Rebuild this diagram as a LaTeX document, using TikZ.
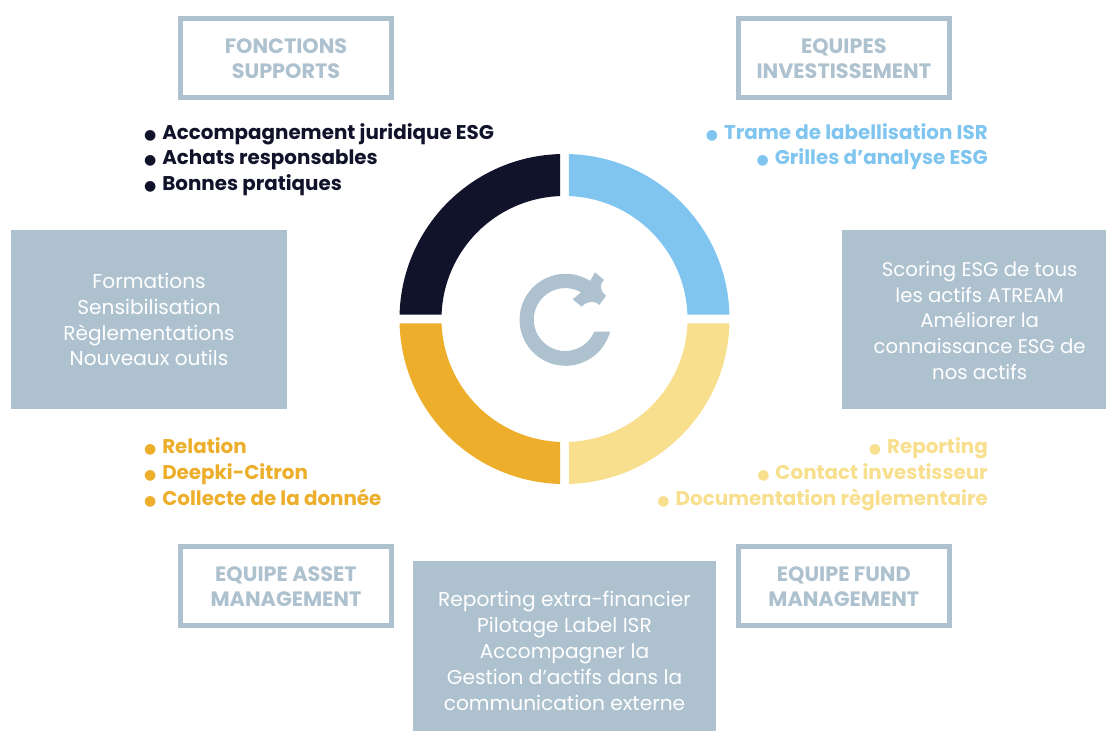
\documentclass[tikz,border=0pt]{standalone}
\usepackage{fontspec}
\setmainfont{Poppins}
\newfontfamily\bulletfont{DejaVu Sans}
\definecolor{steel}{HTML}{ADC1CF}
\definecolor{navy}{HTML}{11132A}
\definecolor{sky}{HTML}{7FC5F0}
\definecolor{sand}{HTML}{F8DF8E}
\definecolor{amber}{HTML}{EDAE2B}
\newcommand{\blt}{\makebox[12.75pt][l]{\smash{\raisebox{0pt}{\hspace*{-0.9pt}\bulletfont\fontsize{10.5}{12}\selectfont ●}}}}
\newcommand{\drp}[1]{\vrule height #1 width 0pt\relax}
\tikzset{
  x=0.75pt,y=-0.75pt,
  outlinebox/.style={draw=steel,line width=3.75pt,fill=white,minimum width=157.8pt,minimum height=59.25pt,inner sep=0pt,align=center,text=steel,font=\fontsize{15.6}{18.75}\selectfont\bfseries},
  solidbox/.style={fill=steel,inner sep=0pt,align=center,text=white,font=\fontsize{15.1}{#1}\selectfont},
  solidbox/.default=19.3,
  listtext/.style={inner sep=0pt,font=\fontsize{14.9}{19.25}\selectfont\bfseries},
}
\begin{document}
\begin{tikzpicture}
\useasboundingbox (0,0) rectangle (1106,731);
% ring
\fill[sky] (568.8,154.06) arc[start angle=88.51,end angle=1.49,radius=123.75pt] -- (687.42,314.7) arc[start angle=2,end angle=88,radius=92.25pt] -- cycle;
\fill[sand] (729.44,323.3) arc[start angle=-1.49,end angle=-88.51,radius=123.75pt] -- (568.8,441.92) arc[start angle=-88,end angle=-2,radius=92.25pt] -- cycle;
\fill[amber] (560.2,483.94) arc[start angle=-91.49,end angle=-178.51,radius=123.75pt] -- (441.58,323.3) arc[start angle=-178,end angle=-92,radius=92.25pt] -- cycle;
\fill[navy] (399.56,314.7) arc[start angle=178.51,end angle=91.49,radius=123.75pt] -- (560.2,196.08) arc[start angle=92,end angle=178,radius=92.25pt] -- cycle;
% refresh icon
\fill[steel] (610,331.7) arc[start angle=-15,end angle=-302.3,radius=34.5pt]
 -- (595,272.3) -- (604,280) .. controls (599,285) and (600,291) .. (606,295.7) -- (599.3,305) .. controls (594,300) and (587,301) .. (581.7,306.7) -- (572.7,299.3) -- (581,292.3)
 arc[start angle=60,end angle=337.6,radius=23.6pt] -- cycle;
% boxes
\node[outlinebox] (fs) at (286,57.7) {\drp{12.4pt}FONCTIONS\\SUPPORTS};
\node[outlinebox] (ei) at (843.8,57.7) {\drp{12.4pt}EQUIPES\\INVESTISSEMENT};
\node[outlinebox] (ea) at (286,586) {\drp{12.4pt}EQUIPE ASSET\\MANAGEMENT};
\node[outlinebox] (ef) at (843.8,586) {\drp{12.4pt}EQUIPE FUND\\MANAGEMENT};
\node[solidbox,minimum width=207pt,minimum height=134pt] (b1) at (149,319.5) {\drp{11.6pt}Formations\\Sensibilisation\\Règlementations\\Nouveaux outils};
\node[solidbox,minimum width=198pt,minimum height=134pt,font=\fontsize{14.8}{19.3}\selectfont] (b2) at (974,319.5) {\drp{12.5pt}\hspace*{8.5pt}Scoring ESG de tous\\\hspace*{8.5pt}les actifs ATREAM\\\hspace*{8.5pt}Améliorer la\\\hspace*{8.5pt}connaissance ESG de\\\hspace*{8.5pt}nos actifs};
\node[solidbox=19.5,minimum width=227pt,minimum height=127.5pt] (b3) at (564.5,646) {\drp{18.5pt}Reporting extra-financier\\Pilotage Label ISR\\Accompagner la\\Gestion d’actifs dans la\\communication externe};
% lists
\node[listtext,text=navy,anchor=north west,align=left] (l1) at (145,123) {\blt Accompagnement juridique ESG\\\blt Achats responsables\\\blt Bonnes pratiques};
\node[listtext,text=sky,anchor=north east,align=right] (l2) at (988,123) {\blt Trame de labellisation ISR\\\blt Grilles d’analyse ESG};
\node[listtext,text=amber,anchor=north west,align=left] (l3) at (145,437.5) {\blt Relation\\\blt Deepki-Citron\\\blt Collecte de la donnée};
\node[listtext,text=sand,anchor=north east,align=right] (l4) at (988,437.5) {\blt Reporting\\\blt Contact investisseur\\\blt Documentation règlementaire};
\end{tikzpicture}
\end{document}
